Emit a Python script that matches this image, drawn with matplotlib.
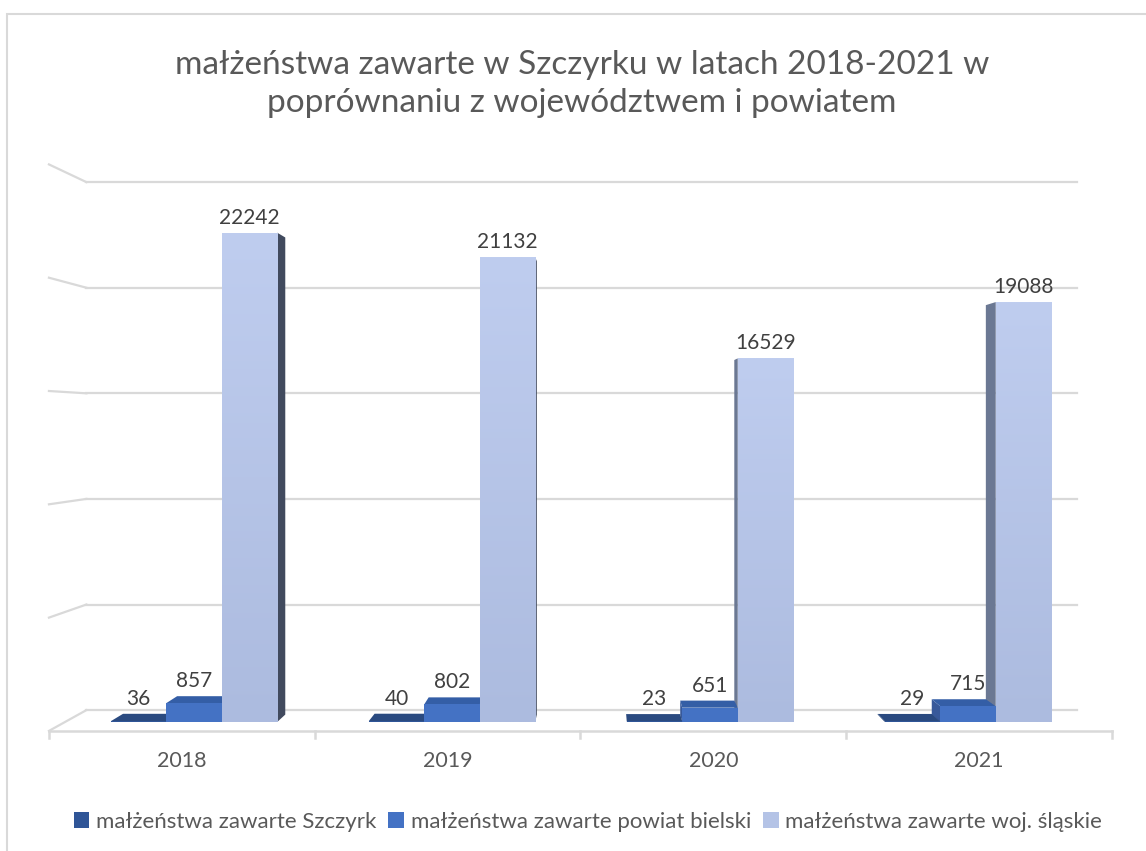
import numpy as np
import matplotlib.pyplot as plt
from matplotlib.patches import Polygon, Patch, Rectangle
from matplotlib.colors import LinearSegmentedColormap

plt.rcParams['font.family'] = ['Lato', 'DejaVu Sans']

# dane
years = ['2018', '2019', '2020', '2021']
szczyrk = [36, 40, 23, 29]
powiat = [857, 802, 651, 715]
wojewodztwo = [22242, 21132, 16529, 19088]
series_names = ['małżeństwa zawarte Szczyrk',
                'małżeństwa zawarte powiat bielski',
                'małżeństwa zawarte woj. śląskie']
title = 'małżeństwa zawarte w Szczyrku w latach 2018-2021 w\npoprównaniu z województwem i powiatem'

front_colors = ['#2f5597', '#4472c4', '#b4c3e6']
top_colors = ['#2a4a80', '#345ea6', '#a3b4da']
right_colors = ['#203a66', '#2c4c86', '#414a5e']
left_colors = ['#2a4575', '#38599a', '#6b7893']
text_color = '#595959'
grid_color = '#d9d9d9'
light_grad = LinearSegmentedColormap.from_list('grad', ['#acbbdf', '#bfcdef'])

W, H = 1146, 851
fig = plt.figure(figsize=(W / 100, H / 100), dpi=100)
ax = fig.add_axes([65 / W, (H - 722) / H, 1032 / W, 550 / H])
ax.set_xlim(-0.5, 3.5)
ax.set_ylim(0, 25000)
ax.axis('off')

# prosta perspektywa: punkt zbiegu w pikselach ekranu
VX, VY = 600, H - 425
BAR_DEPTH = 0.025
WALL_DEPTH = 0.04
FLOOR_FRONT = -0.03


def proj(x, y, d):
    px, py = ax.transData.transform((x, y))
    qx = VX + (px - VX) * (1 - d)
    qy = VY + (py - VY) * (1 - d)
    return ax.transData.inverted().transform((qx, qy))


def shift(pt, dx, dy):
    px, py = ax.transData.transform(pt)
    return ax.transData.inverted().transform((px + dx, py + dy))


# tylna ściana z liniami siatki i boczne "kreski"
for v in range(0, 25001, 5000):
    a = proj(-0.5, v, WALL_DEPTH)
    b = proj(3.5, v, WALL_DEPTH)
    c = proj(-0.5, v, FLOOR_FRONT)
    ax.plot([a[0], b[0]], [a[1], b[1]], color=grid_color, lw=1.6, zorder=1, clip_on=False)
    ax.plot([c[0], a[0]], [c[1], a[1]], color=grid_color, lw=1.6, zorder=1, clip_on=False)

# przednia krawędź podłogi + znaczniki kategorii
f0 = proj(-0.5, 0, FLOOR_FRONT)
f1 = proj(3.5, 0, FLOOR_FRONT)
ax.plot([f0[0], f1[0]], [f0[1], f1[1]], color=grid_color, lw=1.8, zorder=1, clip_on=False)
for k in range(len(years) + 1):
    t0 = proj(k - 0.5, 0, FLOOR_FRONT)
    t1 = shift(t0, 0, -7)
    ax.plot([t0[0], t1[0]], [t0[1], t1[1]], color=grid_color, lw=1.8, zorder=1, clip_on=False)

# etykiety lat
for i, yr in enumerate(years):
    p = shift(proj(i, 0, FLOOR_FRONT), 0, -30)
    ax.text(p[0], p[1], yr, ha='center', va='center', fontsize=15.5, color=text_color)

# słupki 3D
width = 0.215
data = [szczyrk, powiat, wojewodztwo]
grad = np.linspace(0, 1, 256).reshape(-1, 1)
z = 2
for i in range(len(years)):
    bars = []
    for j, vals in enumerate(data):
        x0 = i + (j - 1) * width - width / 2
        x1 = x0 + width
        cx = ax.transData.transform(((x0 + x1) / 2, 0))[0]
        bars.append((abs(cx - VX), j, x0, x1, vals[i]))
    bars.sort(reverse=True)
    for _, j, x0, x1, h in bars:
        px0 = ax.transData.transform((x0, 0))[0]
        px1 = ax.transData.transform((x1, 0))[0]
        ptop = ax.transData.transform((x0, h))[1]
        bl0, bl1 = proj(x0, 0, BAR_DEPTH), proj(x1, 0, BAR_DEPTH)
        bt0, bt1 = proj(x0, h, BAR_DEPTH), proj(x1, h, BAR_DEPTH)
        if px1 < VX:
            ax.add_patch(Polygon([(x1, 0), (x1, h), bt1, bl1], closed=True,
                                 fc=right_colors[j], ec='none', zorder=z, clip_on=False))
        if px0 > VX:
            ax.add_patch(Polygon([(x0, 0), (x0, h), bt0, bl0], closed=True,
                                 fc=left_colors[j], ec='none', zorder=z, clip_on=False))
        if ptop < VY:
            ax.add_patch(Polygon([(x0, h), (x1, h), bt1, bt0], closed=True,
                                 fc=top_colors[j], ec='none', zorder=z, clip_on=False))
        bc = ax.bar(x0, h, width=width, align='edge', color=front_colors[j],
                    zorder=z + 0.5, clip_on=False)
        if j == 2:
            im = ax.imshow(grad, extent=(x0, x1, 0, h), origin='lower', cmap=light_grad,
                           aspect='auto', zorder=z + 0.6, interpolation='bilinear')
            im.set_clip_path(bc.patches[0])
        # etykieta wartości nad słupkiem
        top_y = max(h, bt0[1])
        lab = shift(((x0 + x1) / 2, top_y), 0, 9)
        ax.text(lab[0], lab[1], str(h), ha='center', va='baseline',
                fontsize=15, color='#404040', zorder=10)
        z += 1

ax.set_xlim(-0.5, 3.5)
ax.set_ylim(0, 25000)

# tytuł
fig.text(0.508, 1 - 84 / H, title, ha='center', va='center', fontsize=24,
         color=text_color, linespacing=1.35)

# legenda
handles = [Patch(facecolor=c, edgecolor='none') for c in front_colors]
fig.legend(handles, series_names, loc='center', bbox_to_anchor=(0.513, 1 - 822 / H),
           ncol=3, frameon=False, fontsize=16, handlelength=0.7, handleheight=0.7,
           handletextpad=0.3, columnspacing=0.55, labelcolor=text_color)

# ramka obszaru wykresu
fig.patches.append(Rectangle((7 / W, -0.02), 1.1, 1 - 14 / H + 0.02, transform=fig.transFigure,
                             fill=False, ec=grid_color, lw=1.5))

fig.savefig('out.png', dpi=100)
